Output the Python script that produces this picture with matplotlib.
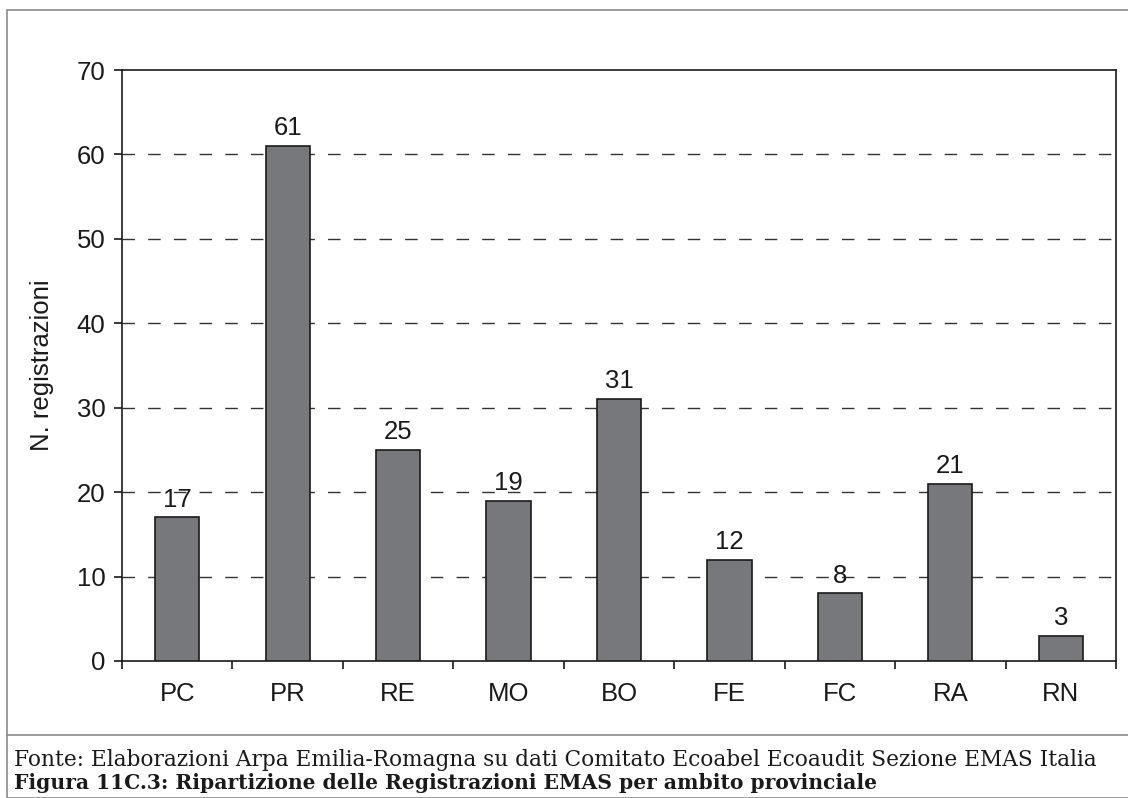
import matplotlib
matplotlib.use("Agg")
import matplotlib.pyplot as plt
from matplotlib.patches import Rectangle
from matplotlib.lines import Line2D

categories = ["PC", "PR", "RE", "MO", "BO", "FE", "FC", "RA", "RN"]
values = [17, 61, 25, 19, 31, 12, 8, 21, 3]
yticks = [0, 10, 20, 30, 40, 50, 60, 70]
ylabel = "N. registrazioni"
source = "Fonte: Elaborazioni Arpa Emilia-Romagna su dati Comitato Ecoabel Ecoaudit Sezione EMAS Italia"
title = "Figura 11C.3: Ripartizione delle Registrazioni EMAS per ambito provinciale"

plt.rcParams['font.family'] = ['Liberation Sans', 'DejaVu Sans']
W, H = 1128, 798
fig = plt.figure(figsize=(W / 100, H / 100), dpi=100)

# outer frame and separator
fig.patches.append(Rectangle((7 / W, 0), 1.2, (H - 10) / H, transform=fig.transFigure,
                             fill=False, edgecolor="#8a8a8a", linewidth=1.2))
fig.lines.append(Line2D([7 / W, 1], [1 - 735 / H, 1 - 735 / H], transform=fig.transFigure,
                        color="#8a8a8a", linewidth=1.2))

FS = 18.5
ax = fig.add_axes([122 / W, 1 - 661 / H, (1116 - 122) / W, (661 - 70) / H])
x = list(range(len(categories)))
ax.bar(x, values, width=0.4, color="#77787b", edgecolor="#1a1a1a", linewidth=1.2, zorder=3)
for xi, v in zip(x, values):
    ax.text(xi, v + 0.7, str(v), ha="center", va="bottom", fontsize=FS, color="#1a1a1a", zorder=4)

ax.set_xlim(-0.5, len(categories) - 0.5)
ax.set_ylim(0, 70)
ax.set_yticks(yticks)
ax.set_yticklabels([str(t) for t in yticks], fontsize=FS, color="#1a1a1a")
ax.set_xticks(x)
ax.set_xticklabels(categories, fontsize=FS, color="#1a1a1a")
ax.tick_params(axis="x", length=0, pad=15)
ax.set_xticks([i + 0.5 for i in range(-1, len(categories))], minor=True)
ax.tick_params(axis="x", which="minor", length=6, width=1.2, direction="out", color="#1a1a1a")
ax.tick_params(axis="y", length=6, width=1.2, direction="out", color="#1a1a1a", pad=6)
for y in yticks[1:-1]:
    ax.axhline(y, color="#333333", linestyle=(0, (9, 9.5)), linewidth=1.0, zorder=1)
for s in ax.spines.values():
    s.set_color("#1a1a1a")
    s.set_linewidth(1.2)
ax.set_ylabel(ylabel, fontsize=FS, color="#1a1a1a", labelpad=16)

fig.text(14 / W, 1 - 760 / H, source, fontsize=15.6, family="DejaVu Serif",
         va="center", ha="left", color="#1a1a1a")
fig.text(14 / W, 1 - 783 / H, title, fontsize=14.6, family="DejaVu Serif", weight="bold",
         va="center", ha="left", color="#1a1a1a")

fig.savefig("out.png", dpi=100)
